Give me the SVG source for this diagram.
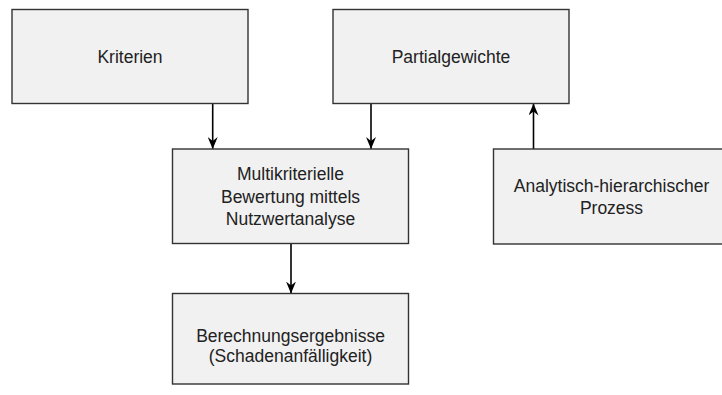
<svg xmlns="http://www.w3.org/2000/svg" width="722" height="395" viewBox="0 0 722 395">
<defs>
<style>
.box{fill:#f1f1f1;stroke:#333333;stroke-width:1.4}
.t{font-family:"Liberation Sans",Arial,sans-serif;font-size:17.5px;fill:#222222;text-anchor:middle}
.c{stroke:#000000;stroke-width:1.6;fill:none;marker-end:url(#ah)}
</style>
<marker id="ah" viewBox="0 0 12 10" refX="12" refY="5" markerWidth="12" markerHeight="10" markerUnits="userSpaceOnUse" orient="auto">
<path d="M0,0 L12,5 L0,10 L4,5 Z" fill="#000000"/>
</marker>
</defs>
<rect width="722" height="395" fill="#ffffff"/>
<g id="connectors">
<line class="c" x1="212.7" y1="103.5" x2="212.7" y2="149"/>
<line class="c" x1="371" y1="103.5" x2="371" y2="149"/>
<line class="c" x1="291" y1="243.5" x2="291" y2="293.5"/>
<line class="c" x1="533.5" y1="149" x2="533.5" y2="103.5"/>
</g>
<g id="kriterien">
<rect class="box" x="12" y="9.5" width="236" height="94"/>
<text class="t" x="130" y="63">Kriterien</text>
</g>
<g id="partialgewichte">
<rect class="box" x="333" y="9.5" width="236" height="94"/>
<text class="t" x="451" y="63">Partialgewichte</text>
</g>
<g id="multikriterielle">
<rect class="box" x="172.5" y="149" width="236" height="94.5"/>
<text class="t" x="290.5" y="180">Multikriterielle</text>
<text class="t" x="290.5" y="202.5">Bewertung mittels</text>
<text class="t" x="290.5" y="225">Nutzwertanalyse</text>
</g>
<g id="ahp">
<rect class="box" x="493.5" y="149" width="236" height="95"/>
<text class="t" x="611.5" y="191.5">Analytisch-hierarchischer</text>
<text class="t" x="611.5" y="214">Prozess</text>
</g>
<g id="ergebnisse">
<rect class="box" x="172.5" y="293.5" width="236" height="90.5"/>
<text class="t" x="290.5" y="341.5">Berechnungsergebnisse</text>
<text class="t" x="290.5" y="362">(Schadenanfälligkeit)</text>
</g>
</svg>
